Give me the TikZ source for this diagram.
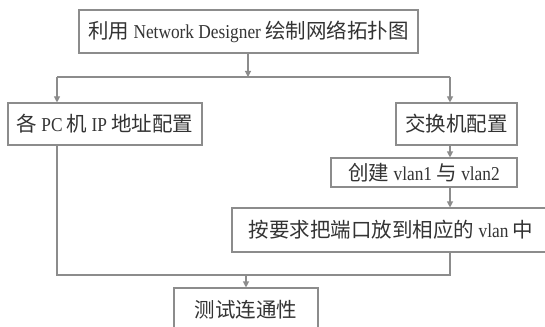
\documentclass[tikz,border=0pt]{standalone}
\usepackage{fontspec}
\setmainfont[Scale=0.96,FakeStretch=0.88]{Liberation Serif}
\newfontfamily\cjk{Noto Sans CJK SC}
\usetikzlibrary{arrows.meta}
\definecolor{linegray}{HTML}{8C8C8C}
\definecolor{txtgray}{HTML}{333333}
\begin{document}
\begin{tikzpicture}[x=1pt,y=-1pt,
  box/.style={draw=linegray,line width=1.1pt,inner sep=0pt,text=txtgray,font=\fontsize{20.5}{24}\selectfont},
  conn/.style={draw=linegray,line width=1.1pt},
  arr/.style={conn,-{Triangle[length=6pt,width=6pt]}}]
\useasboundingbox[fill=white] (0,0) rectangle (545,326);
\node[box,minimum width=339pt,minimum height=43pt] (top) at (248.5,31.5) {{\cjk 利用} Network Designer {\cjk 绘制网络拓扑图}};
\node[box,minimum width=194pt,minimum height=42pt] (pc) at (105,124) {{\cjk 各} PC {\cjk 机} IP {\cjk 地址配置}};
\node[box,minimum width=121pt,minimum height=42pt] (sw) at (456.5,124) {\cjk 交换机配置};
\node[box,minimum width=186pt,minimum height=29pt] (vlan) at (424,172.5) {{\cjk 创建} vlan1 {\cjk 与} vlan2};
\node[box,minimum width=318pt,minimum height=44pt] (port) at (391,230) {{\cjk 按要求把端口放到相应的} vlan {\cjk 中}};
\node[box,minimum width=144pt,minimum height=44pt] (test) at (246,310) {\cjk 测试连通性};
\coordinate (s) at (248,77);
\coordinate (sL) at (57,77);
\coordinate (sR) at (450,77);
\coordinate (m) at (246,275);
\coordinate (mL) at (57,275);
\draw[arr] (top.south -| s) -- (s);
\draw[conn] (sL) -- (sR);
\draw[arr] (sL) -- (sL |- pc.north);
\draw[arr] (sR) -- (sR |- sw.north);
\draw[arr] (sR |- sw.south) -- (sR |- vlan.north);
\draw[arr] (sR |- vlan.south) -- (sR |- port.north);
\draw[conn] (sR |- port.south) |- (mL) -- (sL |- pc.south);
\draw[arr] (m) -- (test.north);
\end{tikzpicture}
\end{document}
